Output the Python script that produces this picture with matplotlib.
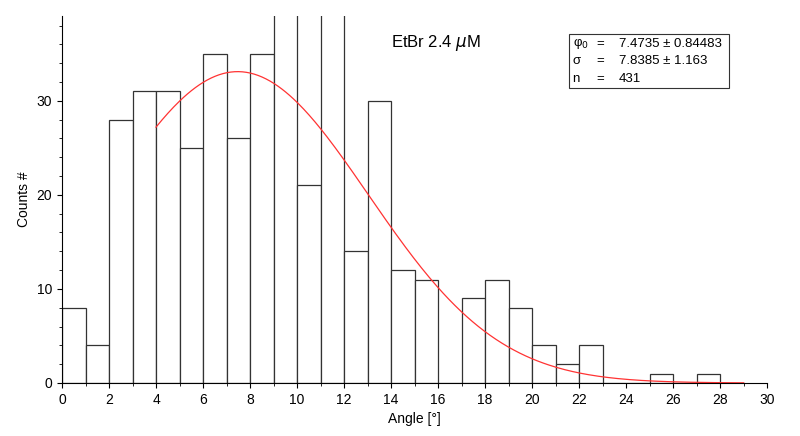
import matplotlib
matplotlib.use("Agg")
import matplotlib.pyplot as plt
import numpy as np
from matplotlib.ticker import MultipleLocator
from matplotlib.patches import Rectangle

plt.rcParams['font.family'] = ['Liberation Sans', 'DejaVu Sans']

bin_left = list(range(0, 28))
counts = [8, 4, 28, 31, 31, 25, 35, 26, 35, 40, 21, 40, 14, 30, 12, 11, 0, 9, 11, 8, 4, 2, 4, 0, 0, 1, 0, 1]
x0, width, amp = 7.4735, 7.8385, 33.1
box_names = ['φ$_0$', 'σ', 'n']
box_vals = ['7.4735 ± 0.84483', '7.8385 ± 1.163', '431']

fig = plt.figure(figsize=(8, 4.36), dpi=100)
ax = fig.add_axes([0.0775, 0.1216, 0.8815, 0.8414])
ax.bar(bin_left, counts, width=1, align='edge', facecolor='white', edgecolor='#333333', linewidth=0.9)
xs = np.linspace(4, 29, 300)
ax.plot(xs, amp * np.exp(-((xs - x0) / width) ** 2), color='#ff3333', lw=0.9)
ax.set_xlim(0, 30)
ax.set_ylim(0, 39)
for s in ['top', 'right']:
    ax.spines[s].set_visible(False)
ax.xaxis.set_major_locator(MultipleLocator(2))
ax.xaxis.set_minor_locator(MultipleLocator(1))
ax.yaxis.set_major_locator(MultipleLocator(10))
ax.yaxis.set_minor_locator(MultipleLocator(2))
ax.tick_params(direction='out', labelsize=10)
ax.set_xlabel('Angle [°]', fontsize=10)
ax.set_ylabel('Counts #', fontsize=10)
ax.text(0.53, 0.915, 'EtBr 2.4 $\\mu$M', transform=ax.transAxes, fontsize=12, ha='center')
ax.add_patch(Rectangle((0.719, 0.805), 0.227, 0.145, transform=ax.transAxes, facecolor='white',
                       edgecolor='#333333', lw=0.8, clip_on=False, zorder=5))
for i, (nm, v) in enumerate(zip(box_names, box_vals)):
    y = 0.925 - i * 0.048
    ax.text(0.724, y, nm, transform=ax.transAxes, fontsize=9.5, va='center', zorder=6)
    ax.text(0.758, y, '=', transform=ax.transAxes, fontsize=9.5, va='center', zorder=6)
    ax.text(0.79, y, v, transform=ax.transAxes, fontsize=9.5, va='center', zorder=6)
fig.savefig('out.png', dpi=100)
